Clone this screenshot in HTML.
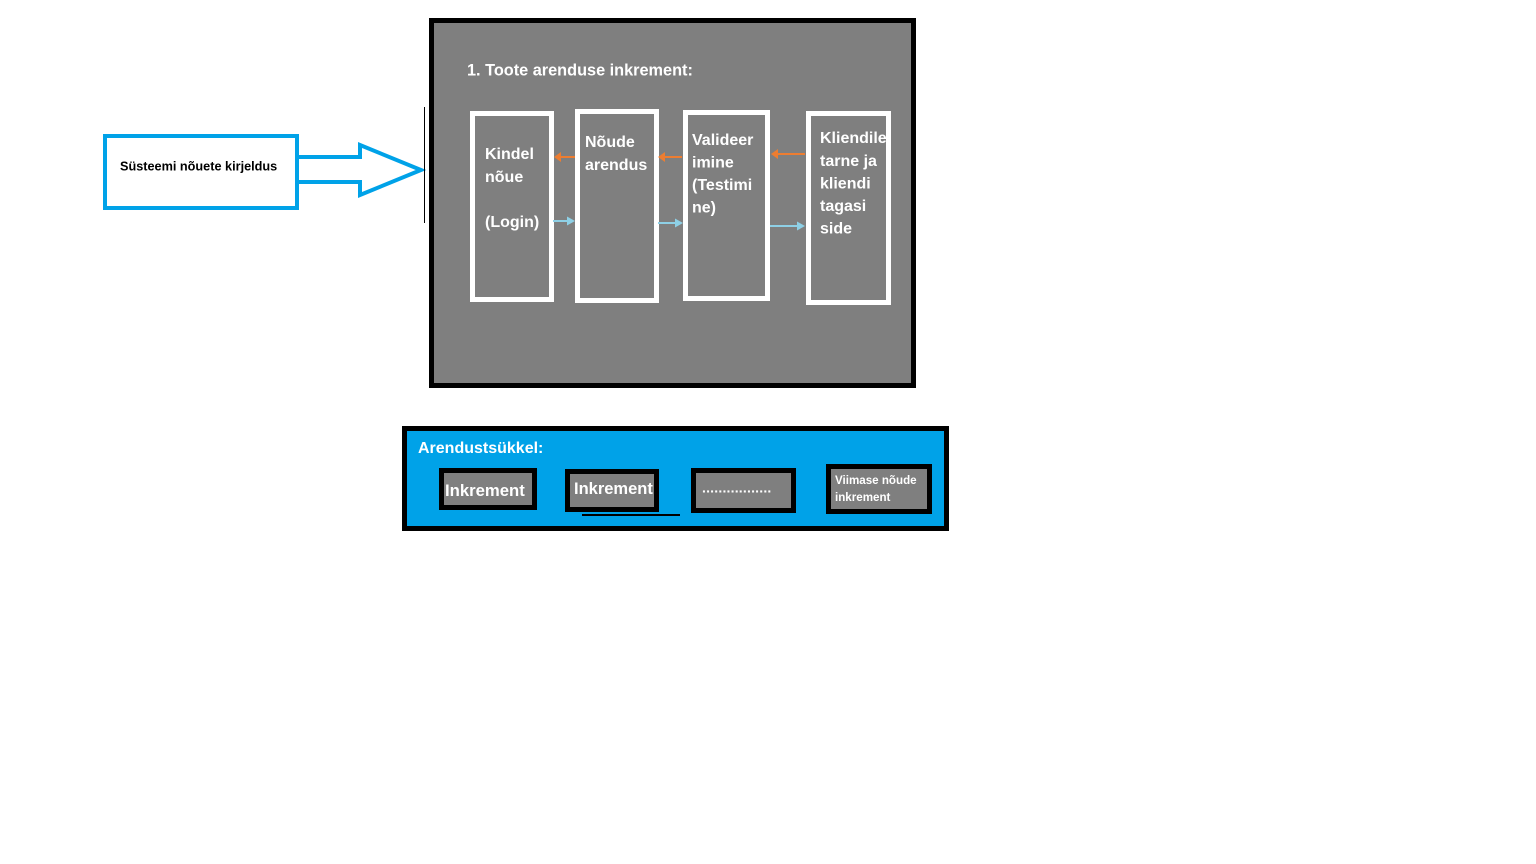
<!DOCTYPE html>
<html>
<head>
<meta charset="utf-8">
<style>
  html, body { margin: 0; padding: 0; background: #ffffff; }
  body { width: 1536px; height: 864px; overflow: hidden; }
  svg { display: block; }
  text { font-family: "Liberation Sans", "DejaVu Sans", sans-serif; font-weight: bold; }
</style>
</head>
<body>
<svg width="1536" height="864" viewBox="0 0 1536 864" xmlns="http://www.w3.org/2000/svg">
  <rect x="0" y="0" width="1536" height="864" fill="#ffffff"/>

  <!-- Left blue box -->
  <rect x="105" y="136" width="192" height="72" fill="#ffffff" stroke="#00A2E8" stroke-width="4"/>
  <text x="120" y="170.5" font-size="12.7" fill="#000000">Süsteemi nõuete kirjeldus</text>

  <!-- Big block arrow -->
  <polygon points="297,157 360,157 360,145 421,170 360,195 360,182 297,182" fill="#ffffff" stroke="#00A2E8" stroke-width="4" stroke-linejoin="miter"/>

  <!-- Main gray box -->
  <rect x="431.5" y="20.5" width="482" height="365" fill="#7F7F7F" stroke="#000000" stroke-width="5"/>
  <!-- thin line left of main box -->
  <line x1="424.5" y1="107" x2="424.5" y2="223" stroke="#000000" stroke-width="1"/>

  <text x="467" y="75.5" font-size="16.3" fill="#ffffff">1. Toote arenduse inkrement:</text>

  <!-- Inner white-bordered boxes -->
  <rect x="472.5" y="113.5" width="79" height="186" fill="none" stroke="#ffffff" stroke-width="5"/>
  <rect x="577.5" y="111.5" width="79" height="189" fill="none" stroke="#ffffff" stroke-width="5"/>
  <rect x="685.5" y="112.5" width="82" height="186" fill="none" stroke="#ffffff" stroke-width="5"/>
  <rect x="808.5" y="113.5" width="80" height="189" fill="none" stroke="#ffffff" stroke-width="5"/>

  <g font-size="16" fill="#ffffff">
    <text x="485" y="159">Kindel</text>
    <text x="485" y="182">nõue</text>
    <text x="485" y="227">(Login)</text>

    <text x="585" y="147">Nõude</text>
    <text x="585" y="170">arendus</text>

    <text x="692" y="145">Valideer</text>
    <text x="692" y="167.5">imine</text>
    <text x="692" y="190">(Testimi</text>
    <text x="692" y="212.5">ne)</text>

    <text x="820" y="143">Kliendile</text>
    <text x="820" y="166">tarne ja</text>
    <text x="820" y="188.5">kliendi</text>
    <text x="820" y="211">tagasi</text>
    <text x="820" y="233.5">side</text>
  </g>

  <!-- Orange arrows (pointing left) -->
  <g stroke="#ED7D31" stroke-width="2" fill="#ED7D31">
    <line x1="575" y1="157" x2="560" y2="157"/>
    <polygon points="554,157 561,152 561,162" stroke="none"/>
    <line x1="682" y1="157" x2="664" y2="157"/>
    <polygon points="658,157 665,152 665,162" stroke="none"/>
    <line x1="805" y1="154" x2="777" y2="154"/>
    <polygon points="771,154 778,149 778,159" stroke="none"/>
  </g>

  <!-- Light blue arrows (pointing right) -->
  <g stroke="#8ED0E6" stroke-width="2" fill="#8ED0E6">
    <line x1="553" y1="221" x2="568" y2="221"/>
    <polygon points="575,221 567,216.5 567,225.5" stroke="none"/>
    <line x1="658" y1="223" x2="676" y2="223"/>
    <polygon points="683,223 675,218.5 675,227.5" stroke="none"/>
    <line x1="770" y1="226" x2="798" y2="226"/>
    <polygon points="805,226 797,221.5 797,230.5" stroke="none"/>
  </g>

  <!-- Bottom blue box -->
  <rect x="404.5" y="428.5" width="542" height="100" fill="#00A2E8" stroke="#000000" stroke-width="5"/>
  <text x="418" y="453" font-size="16" fill="#ffffff">Arendustsükkel:</text>

  <rect x="441.5" y="470.5" width="93" height="37" fill="#7F7F7F" stroke="#000000" stroke-width="5"/>
  <text x="445" y="496" font-size="16.7" fill="#ffffff">Inkrement</text>

  <rect x="567.5" y="471.5" width="89" height="38" fill="#7F7F7F" stroke="#000000" stroke-width="5"/>
  <text x="574" y="494" font-size="16.5" fill="#ffffff">Inkrement</text>
  <line x1="582" y1="515" x2="680" y2="515" stroke="#000000" stroke-width="2"/>

  <rect x="693.5" y="470.5" width="100" height="40" fill="#7F7F7F" stroke="#000000" stroke-width="5"/>
  <text x="702" y="492.5" font-size="14" letter-spacing="0.2" fill="#ffffff">.................</text>

  <rect x="828.5" y="466.5" width="101" height="45" fill="#7F7F7F" stroke="#000000" stroke-width="5"/>
  <text x="835" y="484" font-size="11.6" fill="#ffffff">Viimase nõude</text>
  <text x="835" y="501" font-size="11.6" fill="#ffffff">inkrement</text>
</svg>
</body>
</html>
